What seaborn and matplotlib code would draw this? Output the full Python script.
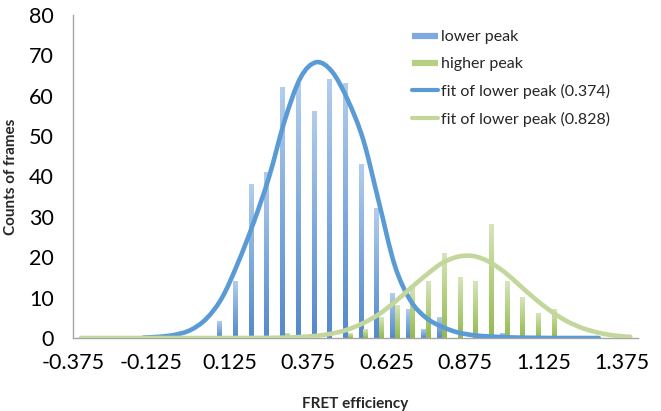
import numpy as np
import pandas as pd
import matplotlib
matplotlib.use("Agg")
import matplotlib.pyplot as plt
import seaborn as sns
from matplotlib.lines import Line2D
from matplotlib.colors import LinearSegmentedColormap
from matplotlib.path import Path
from matplotlib.patches import PathPatch

# ---------------- data ----------------
bins = ["-0.375", "-0.325", "-0.275", "-0.225", "-0.175", "-0.125", "-0.075", "-0.025",
        "0.025", "0.075", "0.125", "0.175", "0.225", "0.275", "0.325", "0.375",
        "0.425", "0.475", "0.525", "0.575", "0.625", "0.675", "0.725", "0.775",
        "0.825", "0.875", "0.925", "0.975", "1.025", "1.075", "1.125", "1.175",
        "1.225", "1.275", "1.325", "1.375"]

lower_peak = [0, 0, 0, 0, 0, 0, 0, 0, 0, 4, 14, 38, 41, 62, 63, 56, 64, 63,
              43, 32, 11, 7, 2, 5, 0, 0, 0, 1, 0, 0, 0, 0, 0, 0, 0, 0]
higher_peak = [0, 0, 0, 0, 0, 0, 0, 0, 0, 0, 0, 0, 0, 1, 0, 0, 0, 1,
               2, 5, 8, 13, 14, 21, 15, 14, 28, 14, 10, 6, 7, 0, 0, 0, 0, 0]

nan = np.nan
fit_lower = [nan, nan, nan, nan, 0.1, 0.3, 0.8, 2.0, 4.8, 10, 18.5, 28.5, 40, 54,
             64.5, 68.3, 66, 59, 49, 33.5, 18, 9.3, 5, 2.8, 1.4, 0.7, 0.4, 0.2,
             0.1, 0.05, 0, 0, 0, 0, nan, nan]
fit_higher = [0, 0, 0, 0, 0, 0, 0, 0, 0, 0, 0.01, 0.02, 0.04, 0.1, 0.25, 0.55,
              1.1, 2.1, 3.7, 5.9, 8.9, 12.3, 15.6, 18.5, 20.1, 20.3, 18.9, 16.3,
              12.9, 9.5, 6.5, 4.1, 2.4, 1.3, 0.6, 0.3]

series_names = ["lower peak", "higher peak"]
fit_names = ["fit of lower peak (0.374)", "fit of lower peak (0.828)"]
y_ticks = [0, 10, 20, 30, 40, 50, 60, 70, 80]

# ---------------- style ----------------
sns.set_style("white")
plt.rcParams["font.family"] = ["Lato", "DejaVu Sans"]

blue_bar = "#6f9fd8"
green_bar = "#a9c86e"
blue_line = "#5b9bd5"
green_line = "#c3d69b"
axis_grey = "#a6a6a6"

fig = plt.figure(figsize=(6.61, 4.11), dpi=100)
ax = fig.add_axes([73 / 661, 73 / 411, 565 / 661, 323 / 411])

df = pd.DataFrame({
    "bin": bins * 2,
    "count": lower_peak + higher_peak,
    "series": [series_names[0]] * len(bins) + [series_names[1]] * len(bins),
})

sns.barplot(data=df, x="bin", y="count", hue="series", order=bins,
            hue_order=series_names, palette=[blue_bar, green_bar],
            width=0.6, dodge=True, legend=False, saturation=1, errorbar=None, ax=ax)

# gradient fill for the bars (dark at bottom, light on top)
cm_blue = LinearSegmentedColormap.from_list("b", ["#5489cc", "#80aade", "#b3cdec"])
cm_green = LinearSegmentedColormap.from_list("g", ["#93b950", "#b3d080", "#d6e5bb"])
grad = np.linspace(0, 1, 128).reshape(-1, 1)
for p in list(ax.patches):
    h = p.get_height()
    if h <= 0:
        p.set_visible(False)
        continue
    fc = p.get_facecolor()[:3]
    cmap = cm_blue if np.allclose(fc, matplotlib.colors.to_rgb(blue_bar), atol=0.02) else cm_green
    x0, w = p.get_x(), p.get_width()
    ax.imshow(grad, extent=[x0, x0 + w, 0, h], origin="lower", aspect="auto",
              cmap=cmap, zorder=2, interpolation="bilinear")
    p.set_visible(False)

n_lines_before = len(ax.lines)
pos = np.arange(len(bins))
sns.lineplot(x=pos, y=fit_lower, color=blue_line, lw=3.3, ax=ax, zorder=4)
sns.lineplot(x=pos, y=fit_higher, color=green_line, lw=3.3, ax=ax, zorder=5)


def smooth_line(line):
    """Redraw a polyline as a smoothed (Catmull-Rom / Bezier) path, like Excel's smoothed lines."""
    xy = np.asarray(line.get_xydata(), dtype=float)
    if xy.ndim != 2 or len(xy) < 2:
        return
    xy = xy[~np.isnan(xy).any(axis=1)]
    n = len(xy)
    if n < 2:
        return
    verts = [xy[0]]
    codes = [Path.MOVETO]
    for i in range(n - 1):
        p0 = xy[i - 1] if i > 0 else xy[i]
        p1 = xy[i]
        p2 = xy[i + 1]
        p3 = xy[i + 2] if i + 2 < n else xy[i + 1]
        c1 = p1 + (p2 - p0) / 6.0
        c2 = p2 - (p3 - p1) / 6.0
        verts += [c1, c2, p2]
        codes += [Path.CURVE4] * 3
    patch = PathPatch(Path(verts, codes), facecolor="none", edgecolor=line.get_color(),
                      lw=line.get_linewidth(), capstyle="round", joinstyle="round",
                      zorder=line.get_zorder(), transform=ax.transData)
    ax.add_patch(patch)
    line.set_visible(False)


for ln in list(ax.lines)[n_lines_before:]:
    smooth_line(ln)

ax.set_xlim(-0.5, len(bins) - 0.5)
ax.set_ylim(0, 80)
ax.set_xticks([k - 0.5 for k in range(0, len(bins), 5)])
ax.set_xticklabels(bins[::5])
ax.set_yticks(y_ticks)
ax.set_yticklabels([str(v) for v in y_ticks])

for s in ["top", "right"]:
    ax.spines[s].set_visible(False)
for s in ["left", "bottom"]:
    ax.spines[s].set_color(axis_grey)
    ax.spines[s].set_linewidth(1.0)
ax.tick_params(axis="both", direction="out", length=4, width=1, color=axis_grey,
               labelsize=15.5, labelcolor="black")
ax.tick_params(axis="y", pad=10)
ax.tick_params(axis="x", pad=7)
ax.grid(False)

ax.set_xlabel("FRET efficiency", fontsize=11, fontweight="bold")
ax.set_ylabel("Counts of frames", fontsize=11, fontweight="bold")
ax.xaxis.set_label_coords(0.5, -(397 - 338) / 323)
ax.yaxis.set_label_coords((18 - 73) / 565, 0.5)

handles = [
    Line2D([0], [0], color="#7eaadf", lw=4.5, solid_capstyle="butt"),
    Line2D([0], [0], color="#b5d083", lw=4.5, solid_capstyle="butt"),
    Line2D([0], [0], color=blue_line, lw=3, solid_capstyle="round"),
    Line2D([0], [0], color=green_line, lw=3, solid_capstyle="round"),
]
fig.legend(handles, series_names + fit_names, loc="upper left",
           bbox_to_anchor=(412 / 661, 1 - 30 / 411), bbox_transform=fig.transFigure,
           frameon=False, fontsize=11.5, handlelength=1.6, handletextpad=0.2,
           labelspacing=0.8, borderpad=0, borderaxespad=0)

fig.savefig("out.png", dpi=100)
